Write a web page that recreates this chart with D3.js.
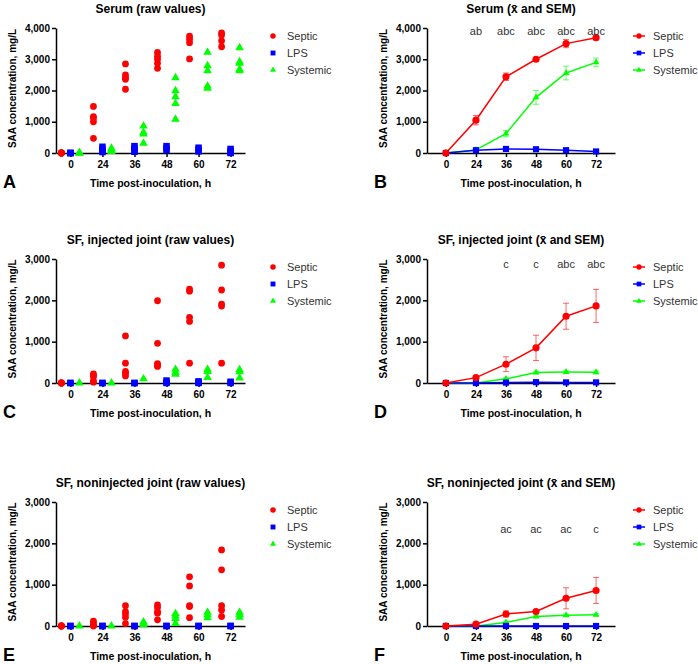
<!DOCTYPE html>
<html><head><meta charset="utf-8">
<script src="https://cdn.jsdelivr.net/npm/d3@7/dist/d3.min.js"></script>
<style>
body{margin:0;background:#fff}
svg{display:block;font-family:"Liberation Sans",Arial,sans-serif}
</style>
</head><body>
<svg id="chart" width="698" height="664"></svg>
<script>
// ---------- DATA ----------
const timepoints = ["0","24","36","48","60","72"];
const groups = ["Septic","LPS","Systemic"];
const yTicksSerum = [0,1000,2000,3000,4000];
const yTicksSF = [0,1000,2000,3000];

// Serum raw values
const serumRawSeptic = [[0,0,0,0,0],[1490,1160,1120,1000,470],[2850,2500,2420,2360,2040],[3220,3100,3000,2870,2710],[3740,3640,3530,3010],[3840,3780,3590,3400]];
const serumRawLPS = [[0,0,0],[200,130,80,30],[220,160,100,40],[220,150,90],[170,110,50],[130,70,20,0]];
const serumRawSystemic = [[0,0,0],[150,100,50],[860,660,610,310],[2410,1990,1800,1580,1080],[3220,2790,2630,2140,2070],[3370,2920,2870,2680,2630]];

// SF injected joint raw values
const injRawSeptic = [[0,0,0,0],[220,190,150,50,20],[1140,480,280,230,170],[1990,960,470,430,400],[2270,2220,1590,1490,480],[2850,2250,1910,1860,480]];
const injRawLPS = [[0,0],[0,0],[0,0],[60,20,0],[40,10,0],[30,0]];
const injRawSystemic = [[0],[0],[100],[330,260,210],[330,280,130],[320,270,120]];

// SF noninjected joint raw values
const nonRawSeptic = [[0,0,0,0],[120,70,20,0],[490,350,290,210,60],[510,450,350,310,150],[1190,970,490,470,200],[1840,1360,490,390,230]];
const nonRawLPS = [[0,0],[0,0],[0,0],[0,0],[0,0],[0,0]];
const nonRawSystemic = [[0],[0],[100,60,30],[300,240,180,60],[330,270,200],[330,280,210]];

// Means and SEM
const serumMeanSeptic = [0,1050,2440,3000,3500,3690];
const serumSemSeptic = [0,150,120,60,130,60];
const serumMeanLPS = [0,90,130,120,90,50];
const serumSemLPS = [0,20,30,30,20,15];
const serumMeanSystemic = [0,100,620,1780,2560,2900];
const serumSemSystemic = [0,20,100,220,220,140];

const injMeanSeptic = [0,130,455,850,1615,1865];
const injSemSeptic = [0,30,180,305,315,400];
const injMeanLPS = [0,0,10,20,15,15];
const injSemLPS = [0,0,5,10,8,8];
const injMeanSystemic = [0,0,100,255,265,260];
const injSemSystemic = [0,0,20,30,30,35];

const nonMeanSeptic = [0,45,290,350,670,860];
const nonSemSeptic = [0,20,75,30,255,315];
const nonMeanLPS = [0,0,0,0,0,0];
const nonSemLPS = [0,0,0,0,0,0];
const nonMeanSystemic = [0,0,85,230,260,270];
const nonSemSystemic = [0,0,20,30,25,25];

// significance letters and the value level at which they sit
const serumLetters = ["","ab","abc","abc","abc","abc"];
const injLetters = ["","","c","c","abc","abc"];
const nonLetters = ["","","ac","ac","ac","c"];
const letterLevels = [3780, 2780, 2260];

// ---------- STYLE / LAYOUT ----------
const colors = {Septic:"#ff0000", LPS:"#0000ff", Systemic:"#00ff00"};
const shapes = {Septic:d3.symbolCircle, LPS:d3.symbolSquare, Systemic:d3.symbolTriangle};
const rawSizes = {Septic:36, LPS:42, Systemic:32};
const meanSizes = {Septic:40, LPS:38, Systemic:20};
const colX = [[56,245],[427,615]];
const rowY = [[28,153],[259,383],[502,626]];

const panels = [
  {kind:"raw", col:0, row:0, letter:"A", title:"Serum (raw values)", yMax:4000, ticks:yTicksSerum,
   series:{Septic:serumRawSeptic, LPS:serumRawLPS, Systemic:serumRawSystemic}},
  {kind:"mean", col:1, row:0, letter:"B", title:"Serum (x\u0304 and SEM)", yMax:4000, ticks:yTicksSerum,
   means:{Septic:serumMeanSeptic, LPS:serumMeanLPS, Systemic:serumMeanSystemic},
   sems:{Septic:serumSemSeptic, LPS:serumSemLPS, Systemic:serumSemSystemic}, letters:serumLetters, lvl:letterLevels[0]},
  {kind:"raw", col:0, row:1, letter:"C", title:"SF, injected joint (raw values)", yMax:3000, ticks:yTicksSF,
   series:{Septic:injRawSeptic, LPS:injRawLPS, Systemic:injRawSystemic}},
  {kind:"mean", col:1, row:1, letter:"D", title:"SF, injected joint (x\u0304 and SEM)", yMax:3000, ticks:yTicksSF,
   means:{Septic:injMeanSeptic, LPS:injMeanLPS, Systemic:injMeanSystemic},
   sems:{Septic:injSemSeptic, LPS:injSemLPS, Systemic:injSemSystemic}, letters:injLetters, lvl:letterLevels[1]},
  {kind:"raw", col:0, row:2, letter:"E", title:"SF, noninjected joint (raw values)", yMax:3000, ticks:yTicksSF,
   series:{Septic:nonRawSeptic, LPS:nonRawLPS, Systemic:nonRawSystemic}},
  {kind:"mean", col:1, row:2, letter:"F", title:"SF, noninjected joint (x\u0304 and SEM)", yMax:3000, ticks:yTicksSF,
   means:{Septic:nonMeanSeptic, LPS:nonMeanLPS, Systemic:nonMeanSystemic},
   sems:{Septic:nonSemSeptic, LPS:nonSemLPS, Systemic:nonSemSystemic}, letters:nonLetters, lvl:letterLevels[2]}
];

const svg = d3.select("#chart");
svg.append("rect").attr("width",698).attr("height",664).attr("fill","#fff");

panels.forEach(p => {
  const [x0,x1] = colX[p.col];
  const [yTop,yBot] = rowY[p.row];
  const pad = p.kind === "raw" ? 0.45 : 0.63;
  const x = d3.scalePoint().domain(timepoints).range([x0,x1]).padding(pad);
  const y = d3.scaleLinear().domain([0,p.yMax]).range([yBot,yTop]);
  const g = svg.append("g");

  // title
  g.append("text").attr("x",(x0+x1)/2).attr("y",yTop-15).attr("text-anchor","middle")
    .attr("font-size",12).attr("font-weight","bold").text(p.title);
  // y axis title
  g.append("text").attr("transform",`translate(${x0-40},${(yTop+yBot)/2-2}) rotate(-90)`)
    .attr("text-anchor","middle").attr("font-size",10).attr("font-weight","bold")
    .text("SAA concentration, mg/L");
  // x axis title
  g.append("text").attr("x",(x0+x1)/2).attr("y",yBot+34).attr("text-anchor","middle")
    .attr("font-size",10.5).attr("font-weight","bold").text("Time post-inoculation, h");
  // panel letter
  g.append("text").attr("x",x0-53).attr("y",yBot+35).attr("font-size",18).attr("font-weight","bold").text(p.letter);

  // axes
  const xa = g.append("g").attr("transform",`translate(0,${yBot})`)
    .call(d3.axisBottom(x).tickSize(4).tickSizeOuter(0).tickPadding(4));
  const ya = g.append("g").attr("transform",`translate(${x0},0)`)
    .call(d3.axisLeft(y).tickValues(p.ticks).tickFormat(d3.format(",")).tickSize(4).tickSizeOuter(0).tickPadding(2));
  [xa,ya].forEach(a => {
    a.selectAll("path,line").attr("stroke","#000").attr("stroke-width",1.5);
    a.selectAll("text").attr("font-size",10).attr("font-weight","bold").attr("fill","#000")
      .attr("font-family","'Liberation Sans',Arial,sans-serif");
  });

  const lx = x0 + 217;
  if (p.kind === "raw") {
    const order = ["LPS","Systemic","Septic"];
    order.forEach(name => {
      const gi = groups.indexOf(name);
      const off = (gi-1)*9;
      p.series[name].forEach((vals,i) => {
        vals.forEach(v => {
          g.append("path").attr("d",d3.symbol().type(shapes[name]).size(rawSizes[name])())
            .attr("transform",`translate(${x(timepoints[i])+off},${y(v)})`)
            .attr("fill",colors[name]);
        });
      });
    });
    groups.forEach((name,k) => {
      const ly = yTop + 8 + k*17;
      g.append("path").attr("d",d3.symbol().type(shapes[name]).size(name==="Systemic"?16:24)())
        .attr("transform",`translate(${lx},${ly})`).attr("fill",colors[name]);
      g.append("text").attr("x",lx+14).attr("y",ly+4).attr("font-size",11).attr("fill","#333").text(name);
    });
  } else {
    const order = ["Systemic","LPS","Septic"];
    const line = d3.line().x((d,i)=>x(timepoints[i])).y(d=>y(d));
    order.forEach(name => {
      g.append("path").datum(p.means[name]).attr("d",line).attr("fill","none")
        .attr("stroke",colors[name]).attr("stroke-width",1.5);
    });
    order.forEach(name => {
      p.means[name].forEach((m,i) => {
        const s = p.sems[name][i];
        if (s <= 0) return;
        const cx = x(timepoints[i]);
        const eg = g.append("g").attr("stroke",colors[name]).attr("stroke-width",1).attr("stroke-opacity",0.6);
        eg.append("line").attr("x1",cx).attr("x2",cx).attr("y1",y(m+s)).attr("y2",y(Math.max(0,m-s)));
        eg.append("line").attr("x1",cx-3).attr("x2",cx+3).attr("y1",y(m+s)).attr("y2",y(m+s));
        eg.append("line").attr("x1",cx-3).attr("x2",cx+3).attr("y1",y(Math.max(0,m-s))).attr("y2",y(Math.max(0,m-s)));
      });
    });
    order.forEach(name => {
      p.means[name].forEach((m,i) => {
        g.append("path").attr("d",d3.symbol().type(shapes[name]).size(meanSizes[name])())
          .attr("transform",`translate(${x(timepoints[i])},${y(m)})`).attr("fill",colors[name]);
      });
    });
    // letters
    p.letters.forEach((t,i) => {
      if (!t) return;
      g.append("text").attr("x",x(timepoints[i])).attr("y",y(p.lvl)).attr("text-anchor","middle")
        .attr("font-size",11).attr("fill","#333").text(t);
    });
    // legend
    const mx = x0 + 212;
    groups.forEach((name,k) => {
      const ly = yTop + 8 + k*17;
      g.append("line").attr("x1",mx-6).attr("x2",mx+6).attr("y1",ly).attr("y2",ly)
        .attr("stroke",colors[name]).attr("stroke-width",1.5);
      g.append("path").attr("d",d3.symbol().type(shapes[name]).size(name==="Systemic"?14:22)())
        .attr("transform",`translate(${mx},${ly})`).attr("fill",colors[name]);
      g.append("text").attr("x",mx+14).attr("y",ly+4).attr("font-size",11).attr("fill","#333").text(name);
    });
  }
});
</script>
</body></html>
